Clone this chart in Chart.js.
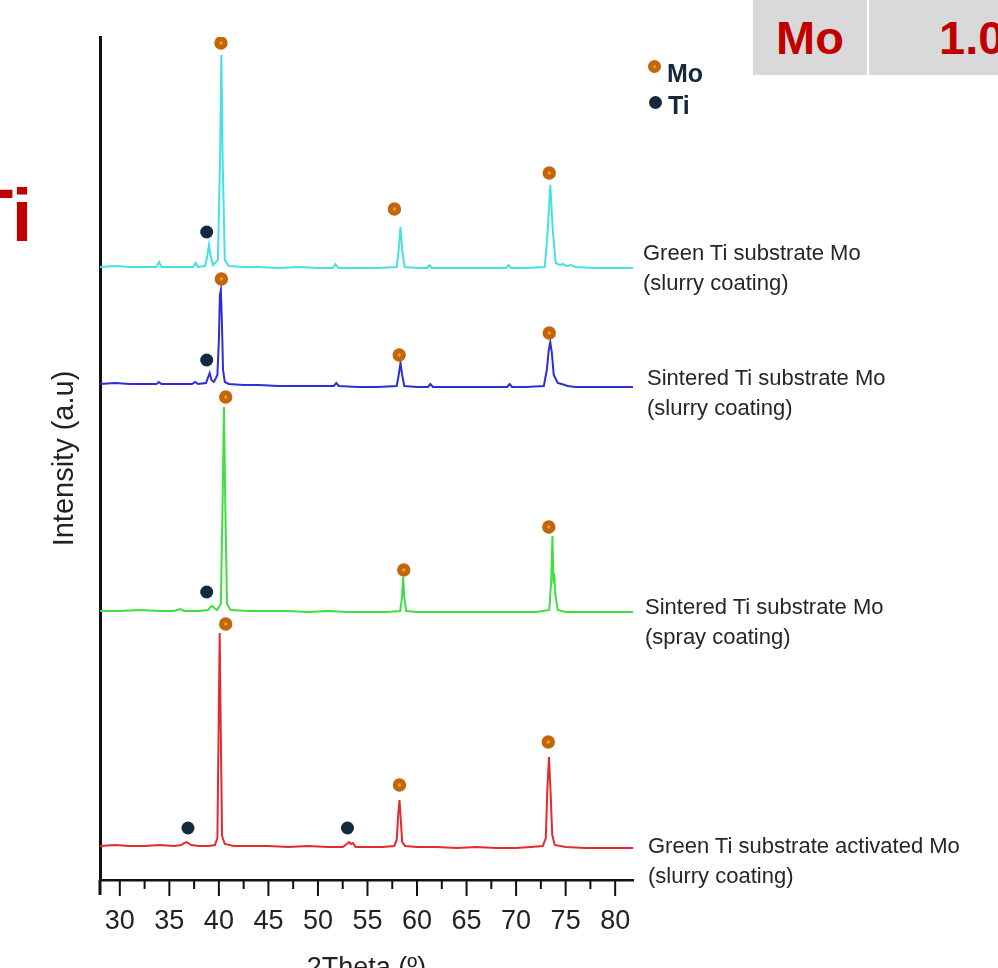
<!DOCTYPE html>
<html>
<head>
<meta charset="utf-8">
<script src="https://cdn.jsdelivr.net/npm/chart.js@4"></script>
<style>
  body { margin: 0; background: #fff; font-family: "Liberation Sans", Arial, sans-serif; }
  #wrap { position: relative; width: 998px; height: 968px; overflow: hidden; }
  #wrap canvas { position: absolute; left: 0; top: 0; }
  .lbl { position: absolute; font-size: 22px; line-height: 30px; color: #262626; white-space: nowrap; }
  .key { position: absolute; font-weight: bold; font-size: 25px; line-height: 30px; color: #14293c; }
  .dot { position: absolute; border-radius: 50%; }
  .cell { position: absolute; top: 0; height: 75px; background: #d9d9d9; color: #c00000;
          font-weight: bold; font-size: 47px; line-height: 75px; white-space: nowrap; }
  #bigTi { position: absolute; left: -32px; top: 179px; font-weight: bold; font-size: 74px;
           line-height: 74px; color: #c00000; }
</style>
</head>
<body>
<div id="wrap">
  <canvas id="xrdChart" width="998" height="968"></canvas>

  <div id="bigTi">Ti</div>

  <div class="cell" style="left:753px;width:114px;text-align:center;">Mo</div>
  <div class="cell" style="left:869px;width:140px;padding-left:70px;box-sizing:border-box;">1.0</div>

  <div class="dot" style="left:648px;top:60px;width:3px;height:3px;border:5px solid #c2660d;background:#f39a2e;"></div>
  <div class="key" style="left:667px;top:58px;">Mo</div>
  <div class="dot" style="left:649px;top:96px;width:13px;height:13px;background:#13293d;"></div>
  <div class="key" style="left:668px;top:90px;">Ti</div>

  <div class="lbl" style="left:643px;top:238px;">Green Ti substrate Mo<br>(slurry coating)</div>
  <div class="lbl" style="left:647px;top:363px;">Sintered Ti substrate Mo<br>(slurry coating)</div>
  <div class="lbl" style="left:645px;top:592px;">Sintered Ti substrate Mo<br>(spray coating)</div>
  <div class="lbl" style="left:648px;top:831px;">Green Ti substrate activated Mo<br>(slurry coating)</div>
</div>

<script>
// x axis ticks (2Theta, degrees)
const majorTicks = [30, 35, 40, 45, 50, 55, 60, 65, 70, 75, 80];
const minorTicks = [32.5, 37.5, 42.5, 47.5, 52.5, 57.5, 62.5, 67.5, 72.5, 77.5];

// Green Ti substrate Mo (slurry coating) - top trace
const cyanTheta = [28, 29.5, 31, 32.5, 33.7, 33.96, 34.2, 35.5, 37.4, 37.66,
  37.9, 38.6, 38.85, 39.0, 39.15, 39.4, 39.9, 40.12, 40.25, 40.38,
  40.6, 41, 42.5, 44, 46, 48, 50, 51.5, 51.77, 52.05,
  54, 56, 57.95, 58.15, 58.33, 58.5, 58.75, 60, 61.0, 61.25,
  61.5, 63, 65, 67, 69.0, 69.25, 69.5, 71, 72.9, 73.2,
  73.45, 73.7, 74.0, 74.4, 74.7, 75.1, 75.5, 76, 78, 80,
  81.8];
const cyanInt = [613, 614, 613, 613, 613, 618, 613, 613, 613, 617,
  613, 614, 625, 635, 625, 615, 620, 720, 825, 720,
  620, 614, 613, 613, 612, 613, 612, 612, 616, 612,
  612, 612, 613, 630, 653, 630, 613, 612, 612, 615,
  612, 612, 612, 612, 612, 615, 612, 612, 613, 650,
  695, 650, 617, 615, 616, 614, 615, 613, 612, 612,
  612];

// Sintered Ti substrate Mo (slurry coating)
const blueTheta = [28, 29.5, 31, 32.5, 33.7, 33.95, 34.2, 35.5, 37.3, 37.6,
  37.9, 38.7, 38.92, 39.07, 39.25, 39.5, 39.85, 40.0, 40.1, 40.2,
  40.3, 40.42, 40.6, 41, 42.5, 44, 46, 48, 50, 51.6,
  51.85, 52.1, 54, 56, 57.95, 58.15, 58.33, 58.5, 58.72, 60,
  61.1, 61.35, 61.6, 63, 65, 67, 69.1, 69.35, 69.6, 71,
  72.8, 73.1, 73.3, 73.45, 73.6, 73.8, 74.2, 74.6, 75.2, 76,
  78, 80, 81.8];
const blueInt = [496, 497, 496, 496, 496, 498, 496, 496, 496, 498,
  496, 497, 503, 507, 500, 498, 505, 540, 585, 590,
  560, 510, 498, 496, 495, 495, 494, 494, 494, 494,
  497, 494, 493, 493, 494, 505, 517, 505, 494, 493,
  493, 496, 493, 493, 493, 493, 493, 496, 493, 493,
  494, 510, 530, 538, 528, 505, 497, 496, 494, 493,
  493, 493, 493];

// Sintered Ti substrate Mo (spray coating)
const greenTheta = [28, 30, 32, 34, 35.5, 36.1, 36.5, 38, 38.9, 39.15,
  39.35, 39.55, 39.8, 40.2, 40.38, 40.51, 40.64, 40.82, 41.2, 43,
  45, 47, 49, 51, 53, 55, 57, 58.3, 58.48, 58.6,
  58.72, 58.9, 60, 62, 64, 66, 68, 70, 72, 73.35,
  73.55, 73.67, 73.77, 73.87, 73.97, 74.2, 75, 77, 79, 81.8];
const greenInt = [269, 269, 270, 269, 269, 271, 269, 269, 270, 273,
  274, 272, 270, 276, 380, 473, 380, 276, 270, 269,
  269, 269, 268, 269, 268, 268, 268, 269, 282, 303,
  282, 269, 268, 268, 268, 268, 268, 268, 268, 270,
  300, 344, 300, 303, 285, 270, 268, 268, 268, 268];

// Green Ti substrate activated Mo (slurry coating) - bottom trace
const redTheta = [28, 29.5, 31, 32.5, 34, 35.5, 36.2, 36.5, 36.7, 36.9,
  37.2, 38, 39, 39.6, 39.85, 39.97, 40.08, 40.19, 40.32, 40.6,
  41.5, 43, 45, 47, 49, 51, 52.5, 52.9, 53.15, 53.35,
  53.55, 53.8, 55, 56.5, 57.7, 57.95, 58.1, 58.23, 58.35, 58.5,
  58.8, 60, 62, 64, 66, 68, 70, 71.5, 72.7, 73.0,
  73.15, 73.32, 73.48, 73.65, 73.9, 75, 77, 79, 81.8];
const redInt = [34, 35, 34, 34, 35, 34, 35, 37, 38, 37,
  35, 34, 34, 35, 42, 150, 247, 150, 44, 36,
  34, 34, 34, 33, 34, 33, 33, 36, 38, 36,
  37, 33, 33, 33, 34, 40, 65, 80, 62, 38,
  34, 33, 33, 32, 33, 32, 32, 33, 34, 42,
  90, 123, 88, 45, 35, 33, 32, 32, 32];

// phase markers placed above the peaks
const moTheta = [40.21, 57.72, 73.35, 40.25, 58.2, 73.35, 40.69, 58.66, 73.3, 40.69, 58.23, 73.25];
const moInt = [837, 671, 707, 601, 525, 547, 483, 310, 353, 256, 95, 138];
const tiTheta = [38.77, 38.77, 38.77, 36.88, 52.98];
const tiInt = [648, 520, 288, 52, 52];

function toPoints(xs, ys) {
  return xs.map((x, i) => ({ x: x, y: ys[i] }));
}

function trace(label, xs, ys, color) {
  return {
    label: label,
    data: toPoints(xs, ys),
    borderColor: color,
    borderWidth: 2,
    pointRadius: 0,
    tension: 0,
    fill: false,
    order: 2
  };
}

// ticks below the axis: long for labelled ones, short in between
const axisTicks = {
  id: "axisTicks",
  afterDraw(chart) {
    const ctx = chart.ctx;
    const xs = chart.scales.x;
    const area = chart.chartArea;
    ctx.save();
    ctx.strokeStyle = "#111";
    ctx.lineWidth = 2;
    xs.ticks.forEach(t => {
      const px = xs.getPixelForValue(t.value);
      const len = majorTicks.includes(t.value) ? 16 : 9;
      ctx.beginPath();
      ctx.moveTo(px, area.bottom);
      ctx.lineTo(px, area.bottom + len);
      ctx.stroke();
    });
    // y axis runs a little past the x axis
    ctx.lineWidth = 3;
    ctx.beginPath();
    ctx.moveTo(area.left, area.bottom);
    ctx.lineTo(area.left, area.bottom + 15);
    ctx.stroke();
    ctx.restore();
  }
};

Chart.defaults.font.family = '"Liberation Sans", Arial, sans-serif';
Chart.defaults.color = "#222";

new Chart(document.getElementById("xrdChart"), {
  type: "line",
  data: {
    datasets: [
      {
        label: "Mo",
        data: toPoints(moTheta, moInt),
        showLine: false,
        pointRadius: 4.2,
        pointBorderWidth: 5,
        pointBackgroundColor: "#f39a2e",
        pointBorderColor: "#c2660d",
        order: 0
      },
      {
        label: "Ti",
        data: toPoints(tiTheta, tiInt),
        showLine: false,
        pointRadius: 6.5,
        pointBorderWidth: 0,
        pointBackgroundColor: "#13293d",
        order: 0
      },
      trace("Green Ti substrate Mo (slurry coating)", cyanTheta, cyanInt, "#45e2e2"),
      trace("Sintered Ti substrate Mo (slurry coating)", blueTheta, blueInt, "#2e2ed6"),
      trace("Sintered Ti substrate Mo (spray coating)", greenTheta, greenInt, "#40de40"),
      trace("Green Ti substrate activated Mo (slurry coating)", redTheta, redInt, "#e42a2e")
    ]
  },
  options: {
    responsive: false,
    animation: false,
    layout: { padding: { left: 50, top: 37, right: 365, bottom: 0 } },
    plugins: {
      legend: { display: false },
      tooltip: { enabled: false }
    },
    scales: {
      x: {
        type: "linear",
        min: 28,
        max: 81.8,
        afterBuildTicks: s => { s.ticks = majorTicks.concat(minorTicks).map(v => ({ value: v })); },
        afterFit: s => { s.height = 88; },
        grid: { display: false, drawTicks: false },
        border: { display: true, color: "#111", width: 2.5 },
        ticks: {
          autoSkip: false,
          maxRotation: 0,
          padding: 25,
          font: { size: 27 },
          color: "#222",
          callback: v => majorTicks.includes(v) ? String(v) : ""
        },
        title: {
          display: true,
          text: "2Theta (º)",
          font: { size: 27 },
          color: "#222",
          padding: { top: 0, bottom: -17 }
        }
      },
      y: {
        min: 0,
        max: 843,
        afterFit: s => { s.width = 50; },
        grid: { display: false, drawTicks: false },
        border: { display: true, color: "#111", width: 3 },
        ticks: { display: false },
        title: {
          display: true,
          text: "Intensity (a.u)",
          font: { size: 29 },
          color: "#222",
          padding: { top: -2, bottom: 0 }
        }
      }
    }
  },
  plugins: [axisTicks]
});
</script>
</body>
</html>
